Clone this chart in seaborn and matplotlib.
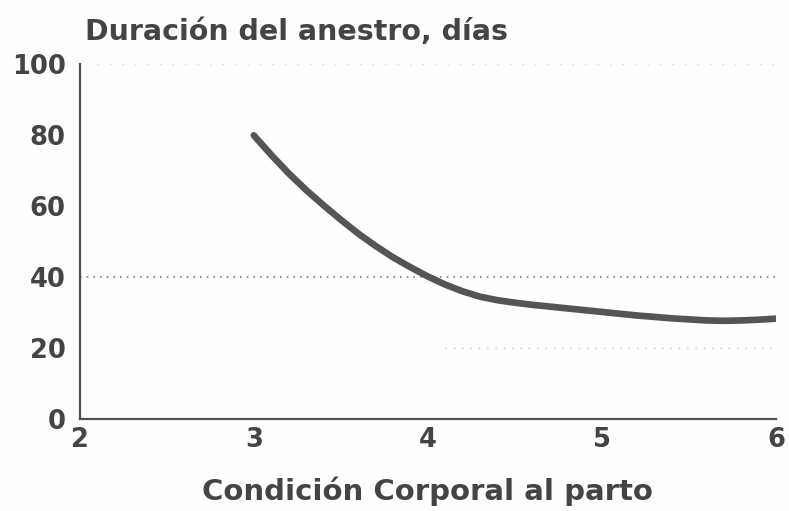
import matplotlib
matplotlib.use("Agg")
import matplotlib.pyplot as plt
import seaborn as sns
import pandas as pd

condicion = [3.0, 3.1, 3.2, 3.3, 3.4, 3.5, 3.6, 3.7, 3.8, 3.9, 4.0,
             4.1, 4.2, 4.3, 4.4, 4.5, 4.6, 4.7, 4.8, 4.9, 5.0,
             5.1, 5.2, 5.3, 5.4, 5.5, 5.6, 5.7, 5.8, 5.9, 6.0]
anestro = [80, 74.5, 69.3, 64.6, 60.3, 56.2, 52.3, 48.8, 45.6, 42.8, 40.2,
           37.9, 36.0, 34.5, 33.5, 32.8, 32.2, 31.7, 31.2, 30.7, 30.2,
           29.7, 29.2, 28.8, 28.4, 28.1, 27.8, 27.7, 27.8, 28.0, 28.3]
x_ticks = [2, 3, 4, 5, 6]
y_ticks = [0, 20, 40, 60, 80, 100]
titulo = "Duración del anestro, días"
x_label = "Condición Corporal al parto"

sns.set_theme(style="white")
plt.rcParams['font.family'] = ['DejaVu Sans']

df = pd.DataFrame({"x": condicion, "y": anestro})
bg = "#fefefc"
fig = plt.figure(figsize=(7.89, 5.11), dpi=100, facecolor=bg)
ax = fig.add_axes([0.101, 0.18, 0.8825, 0.694])
ax.set_facecolor(bg)

txt = "#444444"
# dotted reference lines
ax.axhline(40, color="#808080", lw=1.2, ls=(0, (1, 3)), zorder=1)
ax.plot([4.1, 6.0], [20, 20], color="#c0c0c0", lw=1.0, ls=(0, (1, 5)), zorder=1)
ax.plot([2.1, 6.0], [100, 100], color="#d8d8d8", lw=1.0, ls=(0, (1, 8)), zorder=1)

sns.lineplot(data=df, x="x", y="y", ax=ax, color="#555555", lw=4.8, zorder=3)
for l in ax.get_lines():
    l.set_solid_capstyle("round")
    l.set_solid_joinstyle("round")

ax.set_xlim(2, 6)
ax.set_ylim(0, 100)
ax.set_xticks(x_ticks)
ax.set_yticks(y_ticks)
ax.set_xticklabels([str(t) for t in x_ticks], fontsize=18.5, fontweight="bold", color=txt)
ax.set_yticklabels([str(t) for t in y_ticks], fontsize=18.5, fontweight="bold", color=txt)
ax.tick_params(axis="x", length=0, pad=6)
ax.tick_params(axis="y", length=0, pad=10)
ax.set_xlabel(x_label, fontsize=21, fontweight="bold", color=txt, labelpad=17)
ax.set_ylabel("")

for s in ["top", "right"]:
    ax.spines[s].set_visible(False)
for s in ["left", "bottom"]:
    ax.spines[s].set_color("#505050")
    ax.spines[s].set_linewidth(1.6)

fig.text(85 / 789, 1 - 32 / 511, titulo, fontsize=20.5, fontweight="bold",
         color=txt, va="center", ha="left")

fig.savefig("out.png", dpi=100, facecolor=fig.get_facecolor())
